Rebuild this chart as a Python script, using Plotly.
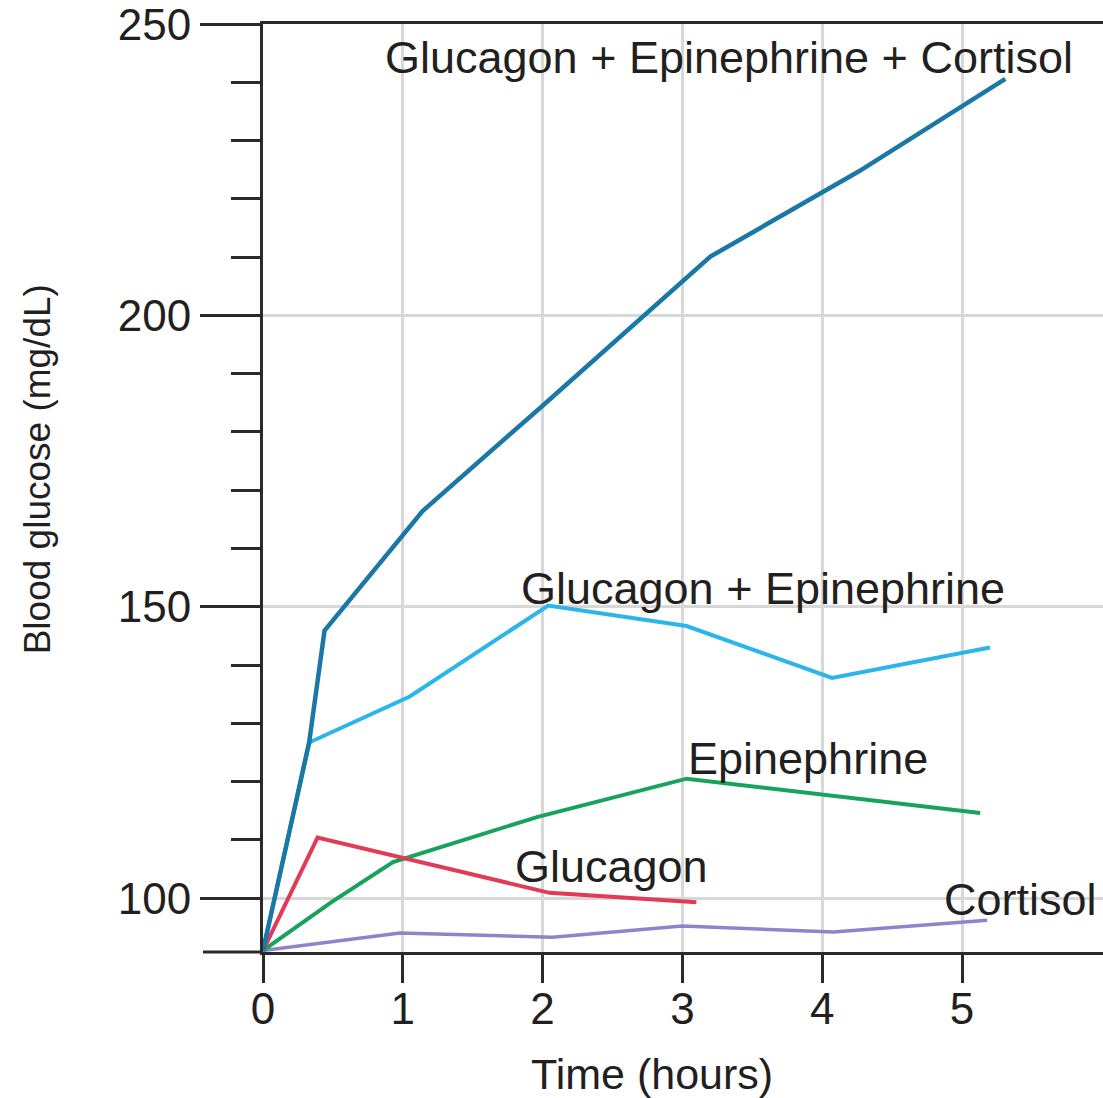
import plotly.graph_objects as go

# ---- data ----
hours_gec = [0, 0.33, 0.44, 1.14, 2.0, 3.2, 4.26, 5.31]
gluc_gec = [91, 126.7, 145.9, 166.4, 184.5, 210.1, 224.7, 240.6]

hours_ge = [0, 0.33, 1.05, 2.04, 3.03, 4.07, 5.20]
gluc_ge = [91, 126.7, 134.6, 150.2, 146.7, 137.8, 143.0]

hours_epi = [0, 0.49, 0.93, 1.96, 3.03, 5.13]
gluc_epi = [91, 99.3, 106.2, 113.9, 120.5, 114.6]

hours_glu = [0, 0.39, 2.05, 3.10]
gluc_glu = [91, 110.4, 100.9, 99.3]

hours_cor = [0, 0.98, 2.07, 3.0, 4.08, 5.18]
gluc_cor = [91, 94.0, 93.3, 95.2, 94.2, 96.2]

series_names = ["Cortisol", "Epinephrine", "Glucagon",
                "Glucagon + Epinephrine", "Glucagon + Epinephrine + Cortisol"]
series_colors = ["#8b86cc", "#17a35c", "#e03b57", "#2bb5ea", "#1a78a6"]
series_widths = [3.5, 4, 4, 4, 4.5]
series_x = [hours_cor, hours_epi, hours_glu, hours_ge, hours_gec]
series_y = [gluc_cor, gluc_epi, gluc_glu, gluc_ge, gluc_gec]

# label positions (data coordinates)
label_x = [5.42, 3.90, 2.49, 3.577, 3.333]
label_y = [99.7, 124.0, 105.5, 153.1, 244.3]

x_title = "Time (hours)"
y_title = "Blood glucose (mg/dL)"

FONT = "Liberation Sans, Arial, Helvetica, sans-serif"
TXT = "#231f20"
AX = "#2a2a2a"
GRID = "#d8d8d8"

fig = go.Figure()
for name, col, w, xs, ys in zip(series_names, series_colors, series_widths, series_x, series_y):
    fig.add_trace(go.Scatter(x=xs, y=ys, mode="lines", name=name,
                             line=dict(color=col, width=w), showlegend=False))

for name, lx, ly in zip(series_names, label_x, label_y):
    fig.add_annotation(x=lx, y=ly, xref="x", yref="y", text=name, showarrow=False,
                       xanchor="center", yanchor="middle",
                       font=dict(family=FONT, size=45, color=TXT))

# axis titles
fig.add_annotation(x=0.463, y=-0.131, xref="paper", yref="paper", text=x_title,
                   showarrow=False, xanchor="center", yanchor="middle",
                   font=dict(family=FONT, size=43, color=TXT))
fig.add_annotation(x=-0.268, y=0.52, xref="paper", yref="paper", text=y_title,
                   showarrow=False, xanchor="center", yanchor="middle", textangle=-90,
                   font=dict(family=FONT, size=37, color=TXT))

# bottom axis line extension to the left of the y axis
fig.add_shape(type="line", xref="paper", yref="paper", x0=-60/840, x1=0, y0=0, y1=0,
              line=dict(color=AX, width=3))

fig.update_layout(
    width=1103, height=1098,
    margin=dict(l=263, r=0, t=22, b=146),
    paper_bgcolor="white", plot_bgcolor="white",
    xaxis=dict(range=[0, 840/139.8], ticks="outside", ticklen=28,
               tickwidth=3, tickcolor=AX, showline=True, linecolor=AX, linewidth=3,
               mirror=True, showgrid=True, gridcolor=GRID, gridwidth=2.5, zeroline=False,
               tickfont=dict(family=FONT, size=44, color=TXT),
               ticklabelstandoff=-12, ticklabeloverflow="allow",
               tickvals=[0, 1, 2, 3, 4, 5]),
    yaxis=dict(range=[90.75, 250.02], tick0=100, dtick=50, ticks="outside", ticklen=60,
               tickwidth=3, tickcolor=AX, showline=True, linecolor=AX, linewidth=3,
               showgrid=True, gridcolor=GRID, gridwidth=2.5, zeroline=False,
               tickfont=dict(family=FONT, size=44, color=TXT),
               ticklabeloverflow="allow",
               minor=dict(dtick=10, tick0=100, ticks="outside", ticklen=29,
                          tickwidth=3, tickcolor=AX, showgrid=False)),
)

fig.write_html("out.html", config={"displayModeBar": False},
               post_script="document.body.style.margin='0';document.body.style.overflow='hidden';")
